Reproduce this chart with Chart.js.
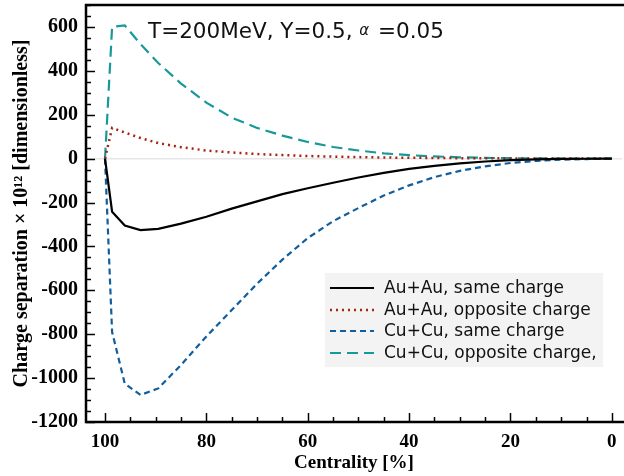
<!DOCTYPE html>
<html><head><meta charset="utf-8">
<script src="https://cdn.jsdelivr.net/npm/chart.js@4"></script>
<style>html,body{margin:0;padding:0;background:#fff}#wrap{width:624px;height:476px}</style>
</head><body>
<div id="wrap"><canvas id="c" width="624" height="476"></canvas></div>
<script>
const centrality = [100, 98.6, 96.1, 93, 89.5, 85, 80, 75, 70, 65, 60, 55, 50, 45, 40, 35, 30, 25, 20, 15, 10, 5, 0];
const auAuSame     = [0, -242, -305, -326, -320, -296, -265, -228, -195, -162, -135, -110, -86, -65, -47, -33, -22, -13, -7, -3.5, -1.5, -0.5, 0];
const auAuOpposite = [0, 140, 119, 94, 71, 52, 37, 28, 21, 16, 12, 9, 7, 5, 4, 3, 2, 1.5, 1, 0.6, 0.3, 0.1, 0];
const cuCuSame     = [0, -790, -1025, -1077, -1047, -940, -810, -690, -570, -460, -362, -285, -225, -168, -122, -84, -56, -35, -20, -10, -5, -2, 0];
const cuCuOpposite = [0, 600, 607, 522, 436, 342, 255, 187, 140, 105, 76, 53, 37, 24, 16, 10, 6, 3.5, 2, 1, 0.5, 0.2, 0];
const seriesLabels = ["Au+Au, same charge", "Au+Au, opposite charge", "Cu+Cu, same charge", "Cu+Cu, opposite charge,"];
const xTickValues = [100, 80, 60, 40, 20, 0];
const yTickValues = [-1200, -1000, -800, -600, -400, -200, 0, 200, 400, 600];

const pts = arr => arr.map((v, i) => ({x: centrality[i], y: v}));

const SERIF = "'Liberation Serif', 'Times New Roman', serif";
const SANS = "'DejaVu Sans', sans-serif";

const framePlugin = {
  id: 'frame',
  afterDraw(chart) {
    const {ctx, chartArea: a, scales: {x, y}} = chart;
    ctx.save();
    ctx.strokeStyle = '#000';
    ctx.lineWidth = 1.5;
    for (let v = -1200; v <= 700; v += 50) {
      const py = Math.round(y.getPixelForValue(v)) + 0.5;
      const len = (v % 200 === 0) ? 9 : 5;
      ctx.beginPath(); ctx.moveTo(a.left, py); ctx.lineTo(a.left + len, py); ctx.stroke();
    }
    for (let v = 100; v >= -2; v -= 5) {
      const px = Math.round(x.getPixelForValue(v)) + 0.5;
      const len = (v % 20 === 0) ? 9 : 5;
      ctx.beginPath(); ctx.moveTo(px, a.bottom); ctx.lineTo(px, a.bottom - len); ctx.stroke();
    }
    ctx.lineWidth = 2.5;
    ctx.beginPath();
    ctx.moveTo(a.right + 2, a.top); ctx.lineTo(a.left, a.top); ctx.lineTo(a.left, a.bottom); ctx.lineTo(a.right + 2, a.bottom);
    ctx.stroke();
    ctx.fillStyle = '#000';
    ctx.font = "bold 19px " + SERIF;
    ctx.textAlign = 'center'; ctx.textBaseline = 'middle';
    ctx.fillText('Centrality [%]', (a.left + a.right) / 2, 463);
    ctx.save();
    ctx.font = "bold 20px " + SERIF;
    ctx.translate(22, (a.top + a.bottom) / 2);
    ctx.rotate(-Math.PI / 2);
    ctx.fillText('Charge separation \u00D7 10\u00B9\u00B2 [dimensionless]', 0, 0);
    ctx.restore();
    ctx.textAlign = 'left'; ctx.textBaseline = 'alphabetic';
    ctx.fillStyle = '#111';
    ctx.font = "21.5px " + SANS;
    let tx = 148;
    const ty = 38;
    const p1 = 'T=200MeV, Y=0.5, ';
    ctx.fillText(p1, tx, ty); tx += ctx.measureText(p1).width;
    ctx.font = "italic 15px " + SANS;
    ctx.fillText('\u03B1', tx, ty - 3); tx += ctx.measureText('\u03B1').width + 2;
    ctx.font = "21.5px " + SANS;
    ctx.fillText(' =0.05', tx, ty);
    const lx = 325, ly = 273, lw = 278, lh = 94;
    ctx.fillStyle = '#f3f3f3';
    ctx.fillRect(lx, ly, lw, lh);
    const rows = [288, 310, 331, 353];
    chart.data.datasets.forEach((ds, i) => {
      ctx.save();
      ctx.strokeStyle = ds.borderColor;
      ctx.lineWidth = ds.borderWidth;
      ctx.setLineDash(ds.borderDash || []);
      ctx.beginPath(); ctx.moveTo(330, rows[i]); ctx.lineTo(374, rows[i]); ctx.stroke();
      ctx.restore();
      ctx.fillStyle = '#111';
      ctx.font = "17px " + SANS;
      ctx.textBaseline = 'middle';
      ctx.fillText(ds.label, 384, rows[i] + 1);
    });
    ctx.restore();
  }
};

new Chart(document.getElementById('c'), {
  type: 'line',
  data: {
    datasets: [
      {label: seriesLabels[0], data: pts(auAuSame), borderColor: '#000000', borderWidth: 2.2, borderDash: []},
      {label: seriesLabels[1], data: pts(auAuOpposite), borderColor: '#a8230f', borderWidth: 2.5, borderDash: [2, 4]},
      {label: seriesLabels[2], data: pts(cuCuSame), borderColor: '#115e9e', borderWidth: 2.2, borderDash: [6, 4]},
      {label: seriesLabels[3], data: pts(cuCuOpposite), borderColor: '#179999', borderWidth: 2.2, borderDash: [11, 6]}
    ]
  },
  options: {
    responsive: false,
    animation: false,
    devicePixelRatio: 1,
    layout: {padding: {left: 0, right: 2, top: 5, bottom: 0}},
    elements: {point: {radius: 0}, line: {tension: 0, fill: false}},
    plugins: {legend: {display: false}, tooltip: {enabled: false}, title: {display: false}},
    scales: {
      x: {
        type: 'linear', reverse: true, min: -2, max: 103.75,
        afterFit(s) { s.height = 54; s.paddingLeft = 0; s.paddingRight = 0; },
        afterBuildTicks(s) { s.ticks = xTickValues.map(v => ({value: v})); },
        grid: {display: false},
        border: {display: false},
        ticks: {color: '#000', font: {family: SERIF, size: 19, weight: 'bold'}, padding: 1, maxRotation: 0, callback: v => String(v)}
      },
      y: {
        type: 'linear', min: -1200, max: 700,
        afterFit(s) { s.width = 86; s.paddingTop = 0; s.paddingBottom = 0; },
        afterBuildTicks(s) { s.ticks = yTickValues.map(v => ({value: v})); },
        grid: {drawTicks: false, lineWidth: 1.5, color: c => (c.tick && c.tick.value === 0) ? '#e6e6e6' : 'rgba(0,0,0,0)'},
        border: {display: false},
        ticks: {color: '#000', font: {family: SERIF, size: 20, weight: 'bold'}, padding: 8, callback: v => String(v)}
      }
    }
  },
  plugins: [framePlugin]
});
</script>
</body></html>
